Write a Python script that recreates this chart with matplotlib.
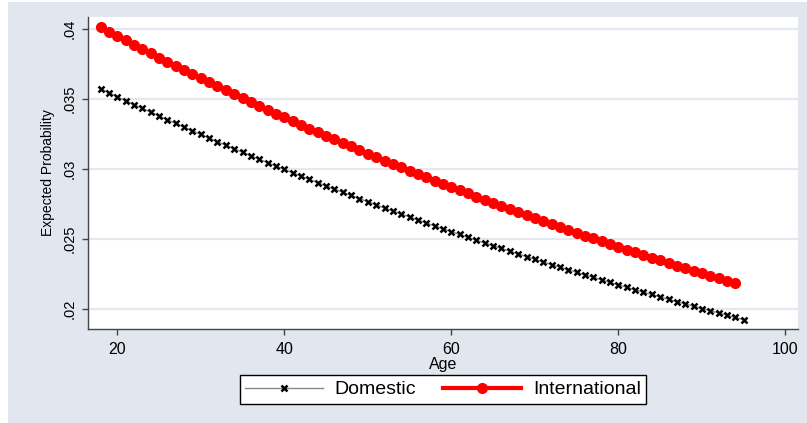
import numpy as np
import matplotlib
matplotlib.use("Agg")
import matplotlib.pyplot as plt
from matplotlib.patches import Rectangle

plt.rcParams['font.family'] = ['Liberation Sans', 'DejaVu Sans']

# ages for each series
age_dom = list(range(18, 96))
age_int = list(range(18, 95))

dom = [.03571, .03543, .03515, .03487, .03459, .03432, .03405, .03378, .03351, .03324,
       .03298, .03272, .03246, .03220, .03194, .03169, .03144, .03119, .03094, .03069,
       .03045, .03021, .02997, .02973, .02949, .02926, .02902, .02879, .02856, .02834,
       .02811, .02789, .02766, .02744, .02722, .02701, .02679, .02658, .02636, .02615,
       .02594, .02574, .02553, .02533, .02512, .02492, .02472, .02453, .02433, .02413,
       .02394, .02375, .02356, .02337, .02318, .02300, .02281, .02263, .02245, .02227,
       .02209, .02191, .02174, .02156, .02139, .02122, .02105, .02088, .02071, .02054,
       .02038, .02021, .02005, .01989, .01973, .01957, .01941, .01926]

intl = [.04010, .03978, .03947, .03916, .03885, .03854, .03824, .03794, .03764, .03734,
        .03704, .03675, .03646, .03617, .03589, .03560, .03532, .03504, .03476, .03449,
        .03421, .03394, .03367, .03341, .03314, .03288, .03262, .03236, .03210, .03185,
        .03160, .03134, .03109, .03085, .03060, .03036, .03012, .02988, .02964, .02940,
        .02917, .02894, .02871, .02848, .02825, .02802, .02780, .02758, .02736, .02714,
        .02692, .02671, .02650, .02628, .02607, .02586, .02566, .02545, .02525, .02505,
        .02485, .02465, .02445, .02425, .02406, .02387, .02368, .02349, .02330, .02311,
        .02293, .02274, .02256, .02238, .02220, .02202, .02185]

yticks = [.02, .025, .03, .035, .04]
ytick_labels = ['.02', '.025', '.03', '.035', '.04']
xticks = [20, 40, 60, 80, 100]

W, H = 807, 423
fig = plt.figure(figsize=(W / 100, H / 100), dpi=100)
fig.patch.set_facecolor('white')
bg = '#e1e6ef'
fig.add_artist(Rectangle((8 / W, 0), 1 - 8 / W, 1 - 2 / H, transform=fig.transFigure,
                         facecolor=bg, edgecolor='none', zorder=-10))

ax = fig.add_axes([88 / W, 1 - 329 / H, (798 - 88) / W, (329 - 17) / H])
ax.set_facecolor('white')

for v in yticks:
    ax.axhline(v, color='#e4e8f0', lw=1.6, zorder=0)

ax.plot(age_dom, dom, color='#888888', lw=1, marker='x', ms=4.5, mew=1.8,
        mec='black', label='Domestic', zorder=3)
ax.plot(age_int, intl, color='red', lw=3, marker='o', ms=7, mec='red',
        mfc='red', label='International', zorder=4)

ax.set_xlim(16.5, 101.5)
ax.set_ylim(0.01859, 0.04083)
ax.set_xticks(xticks)
ax.set_yticks(yticks)
ax.set_yticklabels(ytick_labels, rotation=90, va='center')

for s in ['top', 'right']:
    ax.spines[s].set_visible(False)
for s in ['left', 'bottom']:
    ax.spines[s].set_color('#444444')
    ax.spines[s].set_linewidth(1)

ax.tick_params(axis='both', direction='out', length=4, width=1, color='#444444')
ax.tick_params(axis='x', pad=5.4, labelsize=11.5)
ax.tick_params(axis='y', pad=4, labelsize=10.5)

ax.set_xlabel('Age', fontsize=11.5, labelpad=0.3)
ax.set_ylabel('Expected Probability', fontsize=10, labelpad=6)

leg = fig.legend(loc='center', bbox_to_anchor=(443 / W, 1 - 389.5 / H), ncol=2,
                 fontsize=14, frameon=True, fancybox=False, framealpha=1,
                 edgecolor='black', handlelength=4.0, columnspacing=1.4,
                 handletextpad=0.6, borderpad=0.28, borderaxespad=0,
                 markerscale=1.0)
leg.get_frame().set_linewidth(1)
leg.get_frame().set_facecolor('white')

fig.savefig('out.png', dpi=100, facecolor=fig.get_facecolor())
